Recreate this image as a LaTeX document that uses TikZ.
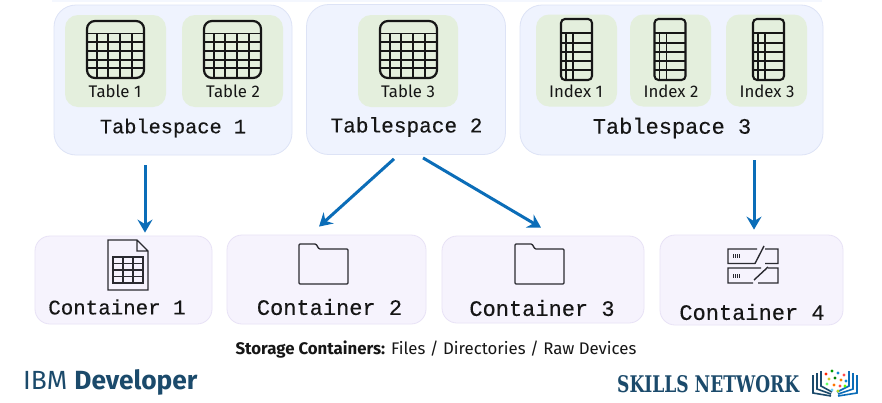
\documentclass[tikz,border=0pt]{standalone}
\usepackage{fontspec}
\setmainfont{Fira Sans}
\setmonofont{Liberation Mono}[FakeBold=0.3]
\newfontfamily\slabfont{DejaVu Serif Condensed}[BoldFont={DejaVu Serif Condensed Bold}]
\usetikzlibrary{arrows.meta}
\definecolor{tsfill}{HTML}{EFF3FE}
\definecolor{tsline}{HTML}{DDE3F6}
\definecolor{grfill}{HTML}{E4EFDD}
\definecolor{ctfill}{HTML}{F6F3FD}
\definecolor{ctline}{HTML}{E8E2F6}
\definecolor{flow}{HTML}{0B6DB8}
\definecolor{brand}{HTML}{1B4A6B}
\definecolor{ink}{HTML}{161616}
\definecolor{iconline}{HTML}{2A2A30}
\newcommand{\tblicon}[2]{%
  \begin{scope}[shift={(#1,#2)}]
    \draw[ink,line width=1.8pt] (10,12.5)--(10,57) (21,12.5)--(21,57) (33,12.5)--(33,57) (45,12.5)--(45,57)
      (0,21)--(57,21) (0,30)--(57,30) (0,39)--(57,39) (0,47)--(57,47);
    \draw[ink,line width=1.8pt] (0,12.5)--(57,12.5);
    \draw[ink,line width=2.2pt,rounded corners=8pt] (0,0) rectangle (57,57);
  \end{scope}}
\newcommand{\idxicon}[2]{%
  \begin{scope}[shift={(#1,#2)}]
    \draw[ink,line width=1.7pt] (5,14)--(5,61) (12,14)--(12,61)
      (0,24)--(31,24) (0,33)--(31,33) (0,42)--(31,42) (0,51)--(31,51);
    \draw[ink,line width=1.9pt] (0,14)--(31,14);
    \draw[ink,line width=2.1pt,rounded corners=4pt] (0,0) rectangle (31,61);
  \end{scope}}
\newcommand{\foldicon}[2]{%
  \begin{scope}[shift={(#1,#2)}]
    \draw[iconline,line width=1.3pt,rounded corners=1pt] (0,40)--(0,0)--(17,0)--(20,5)--(49,5)--(49,40)--cycle;
  \end{scope}}
\begin{document}
\begin{tikzpicture}[x=1pt,y=-1pt,
  tsbox/.style={draw=tsline,line width=.8pt,fill=tsfill,rounded corners=22pt,inner sep=0pt},
  grbox/.style={fill=grfill,rounded corners=13pt,inner sep=0pt,minimum width=101pt,minimum height=92pt},
  idxbox/.style={grbox,minimum width=81pt},
  ctbox/.style={draw=ctline,line width=.8pt,fill=ctfill,rounded corners=15pt,inner sep=0pt},
  small/.style={font=\fontsize{16.8}{18}\selectfont,text=ink,inner sep=0pt},
  mono/.style={font=\ttfamily\fontsize{#1}{22}\selectfont,text=ink,inner sep=0pt},
  mono/.default=20.3,
  conn/.style={draw=flow,line width=3pt,-{Stealth[length=13pt,width=15pt,inset=4.5pt]}}]
\useasboundingbox (0,0) rectangle (882,402);
\fill[white] (0,0) rectangle (882,402);
\fill[tsfill!70!white] (52,0) rectangle (822,1.5);
% tablespaces
\node[tsbox,minimum width=238pt,minimum height=150pt] (ts1) at (173,80) {};
\node[tsbox,minimum width=199pt,minimum height=150pt] (ts2) at (406,79.5) {};
\node[tsbox,minimum width=303pt,minimum height=150pt] (ts3) at (671.5,80) {};
% green tiles
\node[grbox] (g1) at (115.5,61) {};
\node[grbox] (g2) at (232.5,61) {};
\node[grbox,minimum width=100pt] (g3) at (408,61) {};
\node[idxbox] (g4) at (576.5,60.5) {};
\node[idxbox] (g5) at (670.5,60.5) {};
\node[idxbox] (g6) at (766.5,60.5) {};
\tblicon{87}{21}\tblicon{204}{21}\tblicon{380}{21}
\idxicon{561}{19}\idxicon{654.5}{19}\idxicon{753}{19}
\node[small] (l1) at (115,91) {Table 1};
\node[small] (l2) at (233,91) {Table 2};
\node[small] (l3) at (408,91) {Table 3};
\node[small] (l4) at (576,91) {Index 1};
\node[small] (l5) at (671,91) {Index 2};
\node[small] (l6) at (767,91) {Index 3};
\node[mono] (t1) at (173,128) {Tablespace 1};
\node[mono=21.1] (t2) at (406.5,127) {Tablespace 2};
\node[mono=22] (t3) at (672,128) {Tablespace 3};
% containers
\node[ctbox,minimum width=177pt,minimum height=88pt] (c1) at (123.5,280) {};
\node[ctbox,minimum width=199pt,minimum height=89pt] (c2) at (326.5,279.5) {};
\node[ctbox,minimum width=202pt,minimum height=87pt] (c3) at (543,279.5) {};
\node[ctbox,minimum width=183pt,minimum height=90pt] (c4) at (751.5,280) {};
\node[mono=20.8] (n1) at (117,307) {Container 1};
\node[mono=22] (n2) at (329.5,307) {Container 2};
\node[mono=22] (n3) at (542,308) {Container 3};
\node[mono=22] (n4) at (752,312) {Container 4};
% file icon
\draw[iconline,line width=1.3pt] (108,240)--(137,240)--(148,251)--(148,290)--(108,290)--cycle (137,240)--(137,251)--(148,251);
\draw[iconline,line width=1.1pt] (113,257) rectangle (143,283) (123,257)--(123,283) (133,257)--(133,283)
  (113,263.5)--(143,263.5) (113,270)--(143,270) (113,276.5)--(143,276.5);
% folders
\foldicon{299}{244}\foldicon{515}{244}
% server icon
\draw[iconline,line width=1.4pt] (757,249)--(728,249)--(728,263.5)--(755,263.5) (765,249)--(778,249)--(778,263.5)--(765,263.5)
  (764,246)--(755,263.5) (761,268)--(728,268)--(728,283)--(753,283) (768,268)--(778,268)--(778,283)--(758,283)
  (768,267)--(754,280);
\draw[iconline,line width=1.1pt] (733.5,254)--(733.5,258) (735.5,254)--(735.5,258) (737.5,254)--(737.5,258) (739.5,254)--(739.5,258)
  (733.5,274)--(733.5,278) (735.5,274)--(735.5,278) (737.5,274)--(737.5,278) (739.5,274)--(739.5,278);
% connectors
\draw[conn] ([shift={(-28,10)}]ts1.south) -- ([shift={(21.5,-3)}]c1.north);
\draw[conn] ([shift={(-12,4)}]ts2.south) -- ([shift={(-7.5,-8)}]c2.north);
\draw[conn] ([shift={(17,3)}]ts2.south) -- ([shift={(-2,-8)}]c3.north);
\draw[conn] ([shift={(82.5,5)}]ts3.south) -- ([shift={(2.5,-5)}]c4.north);
% captions
\node[inner sep=0pt,text=ink,font=\fontsize{16.8}{18}\selectfont] (cap) at (436,350) {\textbf{Storage Containers:} Files / Directories / Raw Devices};
\node[inner sep=0pt,anchor=west,text=brand,font=\fontsize{26.3}{28}\selectfont] (ibm) at (23,382) {IBM \textbf{Developer}};
\node[inner sep=0pt,anchor=west,text=brand,font=\slabfont\bfseries\fontsize{21}{24}\selectfont] (sn) at (617,384) {\resizebox{182pt}{17pt}{SKILLS NETWORK}};
% book logo
\draw[brand,line width=1.6pt] (813,375)--(813,393)--(831,396) (817,373)--(817,389)--(831,394) (821,371)--(821,386)--(832,392);
\draw[flow,line width=1.6pt] (857,375)--(857,393)--(838,396) (853,373)--(853,389)--(838,394) (849,371)--(849,386)--(837,392);
\foreach \px/\py/\pc in {826/374/red!70!orange,832/371/green!60!black,838/373/cyan!70!blue,844/375/red!70,829/379/yellow!80!black,835/378/green!50!black,841/380/orange,846/381/cyan!70!blue,827/384/green!60,834/385/orange!90!red,840/386/red!70,845/386/green!60!yellow,832/390/cyan!60,838/391/yellow!70!green}
  \fill[\pc] (\px,\py) circle (1.6pt);
\end{tikzpicture}
\end{document}
